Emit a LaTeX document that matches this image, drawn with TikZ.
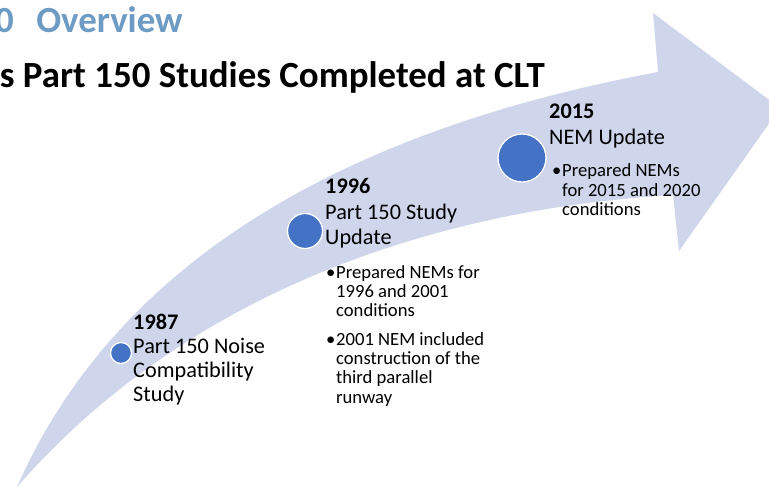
\documentclass[tikz,border=0pt]{standalone}
\usepackage{fontspec}
\setmainfont{Carlito}
\usepackage{xcolor}
\usepackage{tikz}
\definecolor{arrowfill}{RGB}{207,213,234}
\definecolor{dotblue}{RGB}{68,114,196}
\definecolor{titleblue}{RGB}{109,155,196}

\begin{document}
\begin{tikzpicture}[x=0.03cm, y=-0.03cm,
  dot/.style={circle, fill=dotblue, draw=white, line width=1.1pt, inner sep=0pt},
  yearlbl/.style={anchor=base west, inner sep=0pt, font=\fontsize{19}{20.8}\selectfont\bfseries},
  desclbl/.style={anchor=base west, inner sep=0pt, font=\fontsize{19}{20.8}\selectfont},
  bulletlbl/.style={anchor=base west, inner sep=0pt, font=\fontsize{15.9}{16.6}\selectfont},
  titlelbl/.style={anchor=base east, inner sep=0pt, font=\fontsize{31.5}{34}\selectfont\bfseries}]
  \useasboundingbox (0,0) rectangle (769,487);
  \clip (0,0) rectangle (769,487);

  % curved arrow
  \fill[arrowfill] (17,487) .. controls (130,230) and (400,120) .. (658,72)
    -- (653,13) -- (780,108) -- (679,251) -- (673,195)
    .. controls (420,210) and (180,300) .. (17,487) -- cycle;

  % titles
  \node[titlelbl, text=titleblue] (title1) at (183,33) {0\hspace{12pt} Overview};
  \node[titlelbl] (title2) at (545,88) {s Part 150 Studies Completed at CLT};

  % milestones
  \node[dot, minimum size=0.63cm] (c1987) at (121,353) {};
  \node[dot, minimum size=1.05cm] (c1996) at (305,231) {};
  \node[dot, minimum size=1.44cm] (c2015) at (522,158) {};

  \node[yearlbl] (y1987) at (133,329) {1987};
  \node[desclbl] (d1987) at (133,353) {\begin{tabular}[t]{@{}l@{}}Part 150 Noise\\Compatibility\\Study\end{tabular}};

  \node[yearlbl] (y1996) at (325,194) {1996};
  \node[desclbl] (d1996) at (325,220) {\begin{tabular}[t]{@{}l@{}}Part 150 Study\\Update\end{tabular}};
  \node[bulletlbl] (b1996a) at (326,278) {\begin{tabular}[t]{@{}p{8.5pt}@{}l@{}}\textbullet & Prepared NEMs for\\ & 1996 and 2001\\ & conditions\end{tabular}};
  \node[bulletlbl] (b1996b) at (326,345) {\begin{tabular}[t]{@{}p{8.5pt}@{}l@{}}\textbullet & 2001 NEM included\\ & construction of the\\ & third parallel\\ & runway\end{tabular}};

  \node[yearlbl] (y2015) at (549,119) {2015};
  \node[desclbl] (d2015) at (549,145) {NEM Update};
  \node[bulletlbl] (b2015) at (552,177) {\begin{tabular}[t]{@{}p{8.5pt}@{}l@{}}\textbullet & Prepared NEMs\\ & for 2015 and 2020\\ & conditions\end{tabular}};
\end{tikzpicture}
\end{document}
